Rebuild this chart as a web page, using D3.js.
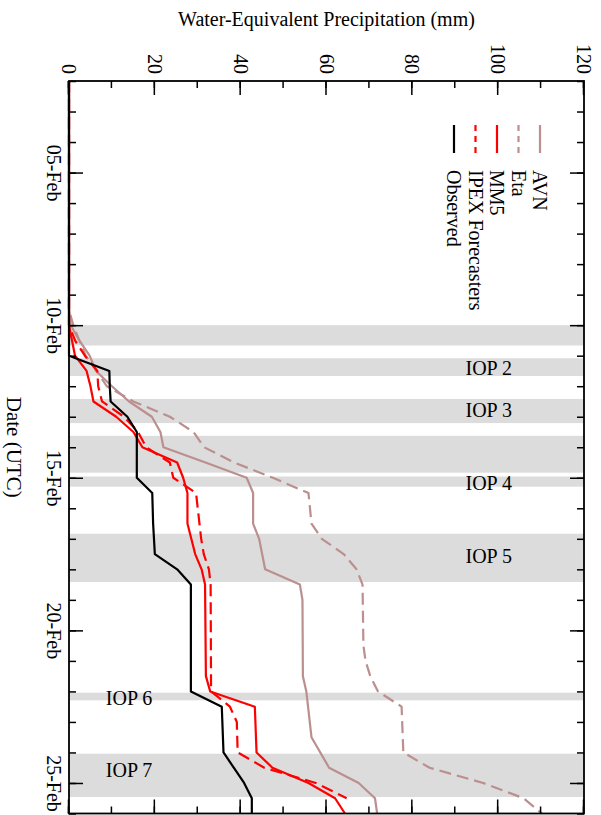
<!DOCTYPE html>
<html>
<head>
<meta charset="utf-8">
<script src="https://cdn.jsdelivr.net/npm/d3@7"></script>
<style>
body { margin: 0; background: #fff; }
text { font-family: "Liberation Serif", "Times New Roman", serif; fill: #000; }
</style>
</head>
<body>
<svg id="chart" width="601" height="815"></svg>
<script>
// values, times in UTC (Feb 2000)
const dateDomain = ["2000-02-02T00", "2000-02-26T00"];
const majorDates = ["2000-02-05T00", "2000-02-10T00", "2000-02-15T00", "2000-02-20T00", "2000-02-25T00"];
const precipLabels = [0, 20, 40, 60, 80, 100, 120];

const observed = [["2000-02-02T00",0],["2000-02-11T00",0],["2000-02-11T12",9.4],["2000-02-12T00",9.5],["2000-02-12T12",9.7],
  ["2000-02-13T00",13.6],["2000-02-13T12",15.8],["2000-02-15T00",15.8],["2000-02-15T12",19.4],["2000-02-16T00",19.5],
  ["2000-02-16T12",19.6],["2000-02-17T00",19.8],["2000-02-17T12",20.0],["2000-02-18T00",25.2],["2000-02-18T12",28.4],
  ["2000-02-22T00",28.4],["2000-02-22T12",35.6],["2000-02-24T00",36.0],["2000-02-25T00",40.8],["2000-02-25T12",42.6],
  ["2000-02-26T00",42.6]];

const mm5 = [["2000-02-02T00",0],["2000-02-10T00",0],["2000-02-11T00",1.4],["2000-02-11T12",4.1],["2000-02-12T00",5.0],
  ["2000-02-12T12",5.7],["2000-02-13T00",11.0],["2000-02-13T12",15.0],["2000-02-14T00",17.1],["2000-02-14T12",25.2],
  ["2000-02-15T00",26.6],["2000-02-15T12",27.6],["2000-02-16T12",27.6],["2000-02-17T12",29.4],["2000-02-18T00",30.9],
  ["2000-02-18T12",31.7],["2000-02-21T12",31.9],["2000-02-22T00",32.9],["2000-02-22T12",43.3],["2000-02-24T00",43.7],
  ["2000-02-24T12",47.4],["2000-02-25T00",55.8],["2000-02-25T12",62.0],["2000-02-26T00",64.3]];

const ipex = [["2000-02-02T00",0],["2000-02-10T00",0],["2000-02-10T12",1.4],["2000-02-11T00",3.7],["2000-02-11T12",6.6],
  ["2000-02-12T00",6.8],["2000-02-12T12",7.7],["2000-02-13T00",12.8],["2000-02-13T12",16.1],["2000-02-14T00",18.0],
  ["2000-02-14T12",23.5],["2000-02-15T00",24.3],["2000-02-15T12",29.6],["2000-02-16T00",30.0],["2000-02-16T12",30.4],
  ["2000-02-17T00",30.8],["2000-02-17T12",31.4],["2000-02-18T00",32.6],["2000-02-18T12",33.0],["2000-02-22T00",33.1],
  ["2000-02-22T12",37.5],["2000-02-23T00",39.1],["2000-02-24T00",39.3],["2000-02-24T12",45.5],["2000-02-25T00",57.5],
  ["2000-02-25T12",64.7]];

const avn = [["2000-02-02T00",0],["2000-02-09T12",0],["2000-02-10T00",0.4],["2000-02-10T12",2.4],["2000-02-11T00",4.8],
  ["2000-02-11T12",6.3],["2000-02-12T00",10.0],["2000-02-12T12",14.0],["2000-02-13T00",19.3],["2000-02-13T12",21.3],
  ["2000-02-14T00",22.0],["2000-02-14T12",31.8],["2000-02-15T00",41.4],["2000-02-15T12",42.9],["2000-02-16T12",42.9],
  ["2000-02-17T00",44.3],["2000-02-17T12",45.0],["2000-02-18T00",45.7],["2000-02-18T12",53.8],["2000-02-19T00",54.4],
  ["2000-02-21T12",54.5],["2000-02-22T00",55.3],["2000-02-23T12",56.5],["2000-02-24T12",60.6],["2000-02-25T00",67.5],
  ["2000-02-25T12",71.3],["2000-02-26T00",71.8]];

const eta = [["2000-02-02T00",0],["2000-02-09T12",0],["2000-02-10T00",1.0],["2000-02-10T12",2.4],["2000-02-11T00",3.9],
  ["2000-02-11T12",6.4],["2000-02-12T00",8.8],["2000-02-12T12",15.0],["2000-02-13T00",23.5],["2000-02-13T12",29.0],
  ["2000-02-14T00",31.5],["2000-02-14T12",38.5],["2000-02-15T00",47.5],["2000-02-15T12",55.8],["2000-02-16T12",56.5],
  ["2000-02-17T00",58.9],["2000-02-17T12",64.0],["2000-02-18T00",67.0],["2000-02-18T12",68.4],["2000-02-20T12",68.6],
  ["2000-02-21T00",69.1],["2000-02-21T12",70.2],["2000-02-22T00",72.0],["2000-02-22T12",77.5],["2000-02-24T00",77.9],
  ["2000-02-24T12",84.0],["2000-02-25T00",96.5],["2000-02-25T12",105.9],["2000-02-26T00",110.2]];

// shaded IOP periods
const iopBands = [["2000-02-10T00","2000-02-10T16"],["2000-02-11T02","2000-02-11T16"],["2000-02-12T10","2000-02-13T05"],
  ["2000-02-13T15","2000-02-14T20"],["2000-02-14T23","2000-02-15T07"],["2000-02-16T20","2000-02-18T10"],
  ["2000-02-22T01","2000-02-22T07"],["2000-02-24T01","2000-02-25T11"]];
const iopLabels = ["IOP 2", "IOP 3", "IOP 4", "IOP 5", "IOP 6", "IOP 7"];
const iopLabelDates = ["2000-02-11T10", "2000-02-12T19", "2000-02-15T04", "2000-02-17T14", "2000-02-22T05", "2000-02-24T14"];
const iopLabelMM = [97.8, 97.8, 97.8, 97.8, 14, 14];

const parse = d3.utcParse("%Y-%m-%dT%H");
const rosy = "#bc8f8f";
const series = [
    { name: "AVN", data: avn, color: rosy, dash: null },
    { name: "Eta", data: eta, color: rosy, dash: "12,6" },
    { name: "MM5", data: mm5, color: "#ff0000", dash: null },
    { name: "IPEX Forecasters", data: ipex, color: "#ff0000", dash: "12,6" },
    { name: "Observed", data: observed, color: "#000", dash: null }
];

// the figure is an ordinary time chart turned a quarter turn clockwise
const W = 732.5, H = 515;
const svg = d3.select("#chart");
const g = svg.append("g").attr("transform", "translate(584,81) rotate(90)");

const x = d3.scaleUtc().domain(dateDomain.map(parse)).range([0, W]);
const y = d3.scaleLinear().domain([0, 120]).range([H, 0]);

g.append("g").selectAll("rect")
    .data(iopBands)
    .join("rect")
    .attr("x", d => x(parse(d[0])))
    .attr("width", d => x(parse(d[1])) - x(parse(d[0])))
    .attr("y", 0)
    .attr("height", H)
    .attr("fill", "#dcdcdc");

const line = d3.line()
    .x(d => x(parse(d[0])))
    .y(d => y(d[1]));

g.append("g").selectAll("path")
    .data(series)
    .join("path")
    .attr("d", d => line(d.data))
    .attr("fill", "none")
    .attr("stroke", d => d.color)
    .attr("stroke-width", 2.2)
    .attr("stroke-dasharray", d => d.dash)
    .attr("stroke-linejoin", "round");

function addAxis(axis, transform) {
    const a = g.append("g")
        .attr("transform", transform)
        .call(axis)
        .attr("font-size", 20)
        .attr("font-family", null);
    a.select(".domain").remove();
    a.selectAll(".tick line").attr("stroke", "#000").attr("stroke-width", 1.5);
    return a;
}

const days = d3.utcDay.every(1);
const minorMM = d3.range(0, 121, 10);
// date axis: left edge of the picture (labelled), right edge (ticks only)
addAxis(d3.axisBottom(x).ticks(days).tickSize(-7).tickFormat(""), `translate(0,${H})`);
addAxis(d3.axisBottom(x).tickValues(majorDates.map(parse)).tickSize(-14).tickPadding(8)
    .tickFormat(d3.utcFormat("%d-%b")), `translate(0,${H})`);
addAxis(d3.axisTop(x).ticks(days).tickSize(-7).tickFormat(""), "translate(0,0)");
addAxis(d3.axisTop(x).tickValues(majorDates.map(parse)).tickSize(-14).tickFormat(""), "translate(0,0)");
// precipitation axis: top edge (labelled), bottom edge (ticks only)
addAxis(d3.axisLeft(y).tickValues(minorMM).tickSize(-7).tickFormat(""), "translate(0,0)");
addAxis(d3.axisLeft(y).tickValues(precipLabels).tickSize(-14).tickPadding(7), "translate(0,0)");
addAxis(d3.axisRight(y).tickValues(minorMM).tickSize(-7).tickFormat(""), `translate(${W},0)`);
addAxis(d3.axisRight(y).tickValues(precipLabels).tickSize(-14).tickFormat(""), `translate(${W},0)`);

g.append("rect")
    .attr("width", W)
    .attr("height", H)
    .attr("fill", "none")
    .attr("stroke", "#000")
    .attr("stroke-width", 1.8);

// axis titles
g.append("text")
    .attr("transform", `translate(-55,${H / 2}) rotate(-90)`)
    .attr("text-anchor", "middle")
    .attr("font-size", 20)
    .text("Water-Equivalent Precipitation (mm)");

g.append("text")
    .attr("x", W / 2)
    .attr("y", H + 62)
    .attr("text-anchor", "middle")
    .attr("font-size", 21)
    .text("Date (UTC)");

// IOP labels, upright on the page
g.append("g").selectAll("text")
    .data(iopLabels)
    .join("text")
    .attr("transform", (d, i) => `translate(${x(parse(iopLabelDates[i]))},${y(iopLabelMM[i])}) rotate(-90)`)
    .attr("text-anchor", "middle")
    .attr("dy", "0.34em")
    .attr("font-size", 20)
    .text(d => d);

// legend
const legend = g.append("g").selectAll("g")
    .data(series)
    .join("g")
    .attr("transform", (d, i) => `translate(44,${44 + i * 21.5})`);
legend.append("line")
    .attr("x1", 0)
    .attr("x2", 28)
    .attr("stroke", d => d.color)
    .attr("stroke-width", 2.2)
    .attr("stroke-dasharray", d => d.dash ? "6,5" : null);
legend.append("text")
    .attr("x", 45)
    .attr("dy", "0.34em")
    .attr("font-size", 20)
    .text(d => d.name);
</script>
</body>
</html>
